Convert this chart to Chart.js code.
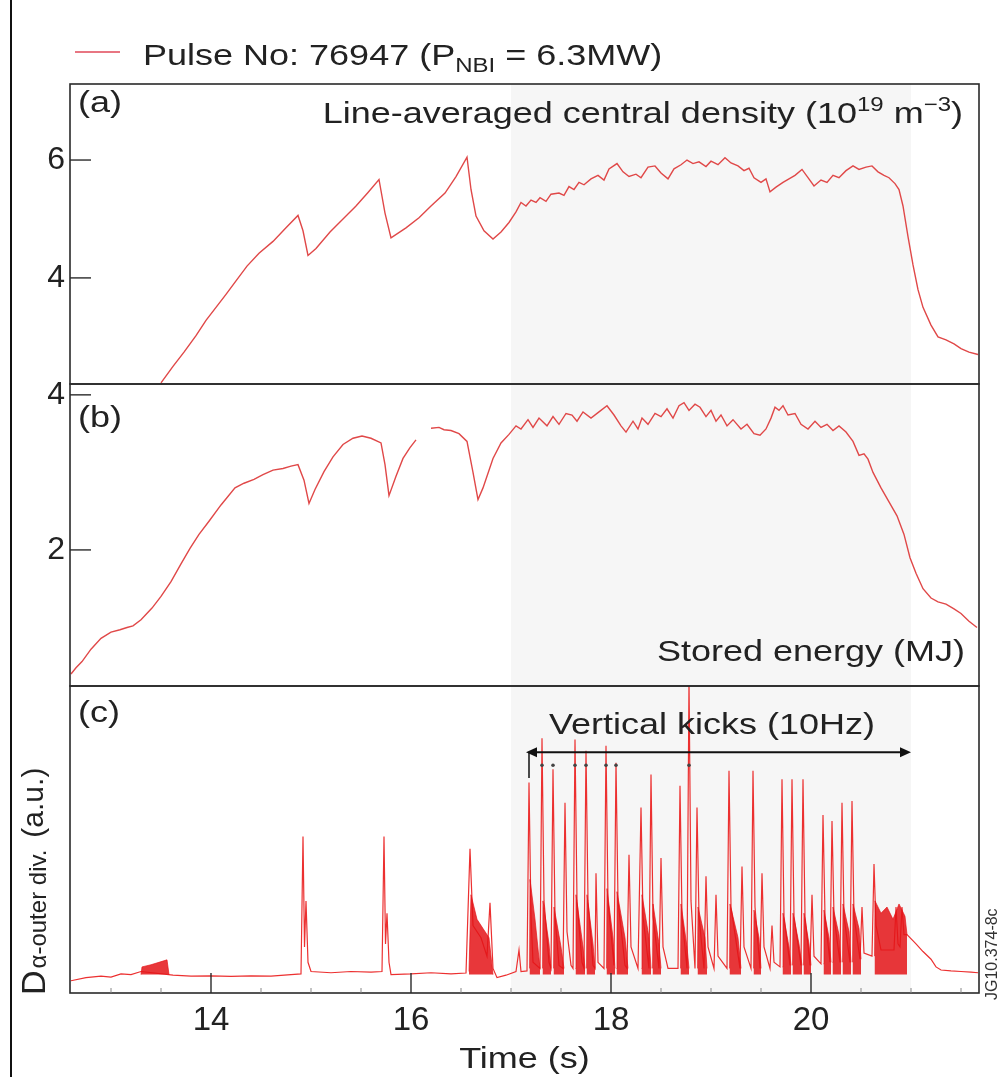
<!DOCTYPE html>
<html>
<head>
<meta charset="utf-8">
<title>Pulse No: 76947</title>
<script src="https://cdn.jsdelivr.net/npm/chart.js@4.4.0/dist/chart.umd.min.js"></script>
<style>
  body { margin: 0; background: #fff; }
  #wrap { position: relative; width: 1000px; height: 1077px; }
  #frame { position: absolute; left: 10px; top: 0; width: 2px; height: 1077px; background: #111; }
</style>
</head>
<body>
<div id="wrap">
  <canvas id="grafico" width="1000" height="1077"></canvas>
  <div id="frame"></div>
</div>
<script>
// (a) line-averaged central density, 10^19 m^-3
const densityTime = [13.50, 13.62, 13.73, 13.85, 13.95, 14.05, 14.15, 14.25, 14.36, 14.48, 14.62, 14.75, 14.87, 14.92, 14.97, 15.05, 15.19, 15.32, 15.45, 15.57, 15.68, 15.74, 15.80, 15.95, 16.08, 16.20, 16.34, 16.45, 16.56, 16.60, 16.65, 16.73, 16.82, 16.90, 16.98, 17.05, 17.10, 17.15, 17.20, 17.25, 17.29, 17.35, 17.40, 17.48, 17.53, 17.58, 17.63, 17.68, 17.73, 17.80, 17.87, 17.93, 17.98, 18.06, 18.12, 18.18, 18.25, 18.30, 18.37, 18.44, 18.50, 18.57, 18.63, 18.70, 18.76, 18.82, 18.88, 18.95, 19.00, 19.07, 19.14, 19.20, 19.27, 19.33, 19.38, 19.43, 19.50, 19.55, 19.59, 19.65, 19.72, 19.78, 19.84, 19.91, 19.97, 20.03, 20.10, 20.16, 20.22, 20.28, 20.35, 20.42, 20.48, 20.55, 20.61, 20.67, 20.73, 20.78, 20.84, 20.88, 20.92, 20.97, 21.02, 21.07, 21.12, 21.20, 21.27, 21.35, 21.43, 21.50, 21.58, 21.67];
const densityVal = [2.22, 2.50, 2.74, 3.02, 3.28, 3.50, 3.72, 3.95, 4.20, 4.42, 4.62, 4.85, 5.06, 4.80, 4.38, 4.50, 4.78, 5.00, 5.22, 5.45, 5.67, 5.10, 4.68, 4.85, 5.02, 5.22, 5.44, 5.72, 6.05, 5.50, 5.05, 4.80, 4.66, 4.78, 4.94, 5.12, 5.28, 5.22, 5.32, 5.28, 5.36, 5.30, 5.42, 5.44, 5.40, 5.55, 5.50, 5.62, 5.58, 5.68, 5.74, 5.66, 5.85, 5.94, 5.80, 5.72, 5.76, 5.70, 5.88, 5.90, 5.78, 5.68, 5.85, 5.92, 6.00, 5.94, 5.97, 5.89, 5.98, 5.92, 6.04, 5.95, 5.90, 5.82, 5.86, 5.70, 5.62, 5.68, 5.46, 5.54, 5.62, 5.68, 5.74, 5.84, 5.70, 5.56, 5.66, 5.62, 5.74, 5.70, 5.82, 5.90, 5.84, 5.88, 5.90, 5.80, 5.74, 5.70, 5.60, 5.50, 5.22, 4.70, 4.22, 3.80, 3.50, 3.20, 3.00, 2.95, 2.88, 2.80, 2.74, 2.70];

// (b) stored energy, MJ (null = gap in the signal)
const energyTime = [12.60, 12.65, 12.71, 12.80, 12.90, 13.00, 13.09, 13.16, 13.22, 13.30, 13.41, 13.50, 13.60, 13.70, 13.79, 13.88, 13.98, 14.10, 14.24, 14.33, 14.43, 14.52, 14.62, 14.72, 14.80, 14.87, 14.93, 14.98, 15.04, 15.13, 15.22, 15.32, 15.42, 15.51, 15.60, 15.70, 15.74, 15.78, 15.85, 15.92, 15.99, 16.05, 16.12, 16.20, 16.28, 16.33, 16.40, 16.48, 16.56, 16.62, 16.67, 16.72, 16.82, 16.90, 16.98, 17.05, 17.10, 17.17, 17.22, 17.28, 17.36, 17.42, 17.48, 17.55, 17.61, 17.66, 17.72, 17.80, 17.88, 17.96, 18.03, 18.10, 18.15, 18.22, 18.27, 18.31, 18.37, 18.44, 18.50, 18.56, 18.62, 18.68, 18.73, 18.78, 18.84, 18.89, 18.95, 19.00, 19.05, 19.10, 19.16, 19.22, 19.30, 19.36, 19.43, 19.49, 19.55, 19.60, 19.64, 19.68, 19.72, 19.77, 19.84, 19.90, 19.97, 20.04, 20.10, 20.16, 20.22, 20.28, 20.35, 20.42, 20.48, 20.53, 20.57, 20.62, 20.70, 20.78, 20.86, 20.93, 20.99, 21.05, 21.12, 21.20, 21.27, 21.35, 21.43, 21.50, 21.58, 21.66];
const energyVal = [0.40, 0.48, 0.56, 0.72, 0.86, 0.94, 0.97, 1.00, 1.02, 1.10, 1.25, 1.40, 1.59, 1.82, 2.02, 2.20, 2.37, 2.58, 2.80, 2.86, 2.91, 2.97, 3.03, 3.05, 3.08, 3.10, 2.90, 2.60, 2.78, 3.01, 3.20, 3.36, 3.44, 3.47, 3.44, 3.38, 3.10, 2.70, 2.95, 3.18, 3.32, 3.42, null, 3.57, 3.58, 3.55, 3.54, 3.50, 3.40, 3.00, 2.65, 2.80, 3.18, 3.38, 3.49, 3.60, 3.56, 3.68, 3.58, 3.70, 3.60, 3.72, 3.62, 3.76, 3.74, 3.66, 3.78, 3.70, 3.78, 3.86, 3.74, 3.60, 3.52, 3.66, 3.56, 3.70, 3.62, 3.76, 3.72, 3.82, 3.70, 3.86, 3.90, 3.80, 3.88, 3.84, 3.72, 3.80, 3.66, 3.74, 3.60, 3.68, 3.56, 3.62, 3.50, 3.48, 3.56, 3.70, 3.84, 3.80, 3.86, 3.74, 3.76, 3.62, 3.56, 3.66, 3.58, 3.62, 3.54, 3.60, 3.52, 3.40, 3.22, 3.24, 3.17, 3.00, 2.80, 2.62, 2.44, 2.20, 1.90, 1.70, 1.50, 1.38, 1.33, 1.30, 1.24, 1.18, 1.08, 1.00];

// (c) D-alpha outer divertor, a.u. (spikes)
const dalphaTime = [12.60, 12.75, 12.90, 13.00, 13.10, 13.20, 13.30, 13.62, 13.80, 14.00, 14.20, 14.40, 14.60, 14.80, 14.90, 14.92, 14.935, 14.95, 14.97, 15.00, 15.20, 15.40, 15.60, 15.71, 15.73, 15.745, 15.76, 15.78, 15.80, 16.00, 16.20, 16.40, 16.55, 16.59, 16.62, 16.70, 16.76, 16.79, 16.82, 16.86, 16.95, 17.05, 17.08, 17.10, 17.16, 17.18, 17.20, 17.22, 17.29, 17.31, 17.33, 17.38, 17.40, 17.42, 17.44, 17.48, 17.52, 17.54, 17.56, 17.60, 17.62, 17.64, 17.66, 17.71, 17.73, 17.75, 17.77, 17.82, 17.84, 17.85, 17.87, 17.93, 17.95, 17.97, 18.03, 18.05, 18.07, 18.14, 18.16, 18.18, 18.20, 18.27, 18.30, 18.32, 18.38, 18.40, 18.42, 18.48, 18.50, 18.52, 18.57, 18.67, 18.69, 18.71, 18.76, 18.78, 18.80, 18.84, 18.86, 18.88, 18.93, 18.95, 18.97, 19.03, 19.05, 19.07, 19.16, 19.18, 19.20, 19.29, 19.31, 19.33, 19.40, 19.42, 19.44, 19.49, 19.51, 19.53, 19.59, 19.61, 19.63, 19.69, 19.71, 19.73, 19.79, 19.81, 19.83, 19.90, 19.92, 19.94, 19.99, 20.01, 20.03, 20.10, 20.12, 20.14, 20.19, 20.21, 20.23, 20.29, 20.31, 20.33, 20.39, 20.41, 20.43, 20.49, 20.51, 20.53, 20.61, 20.63, 20.65, 20.70, 20.83, 20.85, 20.87, 20.89, 20.91, 20.93, 20.96, 21.05, 21.12, 21.20, 21.25, 21.30, 21.40, 21.50, 21.60, 21.67];
const dalphaVal = [0.40, 0.50, 0.55, 0.52, 0.62, 0.60, 0.70, 0.58, 0.55, 0.56, 0.54, 0.56, 0.55, 0.60, 0.62, 5.10, 1.50, 3.00, 1.00, 0.70, 0.66, 0.70, 0.68, 0.70, 5.10, 1.60, 2.60, 1.00, 0.60, 0.62, 0.66, 0.62, 0.65, 4.70, 2.20, 1.80, 1.20, 2.94, 0.80, 0.50, 0.58, 0.70, 1.40, 0.70, 0.72, 6.86, 2.50, 1.00, 0.80, 8.30, 3.00, 1.00, 0.80, 7.29, 2.50, 0.90, 0.80, 6.20, 2.00, 0.90, 0.80, 8.26, 3.00, 1.00, 0.80, 7.89, 3.00, 0.90, 0.80, 3.90, 1.00, 0.80, 8.05, 3.00, 0.90, 7.50, 3.00, 0.90, 0.80, 4.50, 1.50, 0.80, 6.04, 2.50, 0.80, 7.12, 2.50, 0.80, 4.40, 1.50, 0.80, 0.80, 6.75, 2.50, 0.80, 10.2, 3.00, 0.80, 6.04, 2.50, 0.80, 3.80, 1.50, 0.80, 3.20, 1.20, 0.80, 7.24, 2.80, 0.80, 4.12, 1.50, 0.80, 7.24, 2.80, 0.80, 3.90, 1.50, 0.80, 2.20, 1.00, 0.85, 6.96, 2.50, 0.90, 6.96, 2.50, 0.90, 6.96, 2.50, 0.90, 3.20, 1.20, 0.95, 5.80, 2.50, 1.00, 5.60, 2.50, 1.00, 6.20, 2.50, 1.00, 6.25, 2.50, 1.10, 2.80, 1.30, 1.20, 4.20, 2.20, 1.40, 1.40, 2.80, 1.60, 1.50, 2.80, 1.90, 1.90, 1.60, 1.35, 1.10, 0.85, 0.75, 0.72, 0.70, 0.68, 0.66];

// (c) dense ELM bursts drawn as filled bands (null separates bursts)
const burstTime = [13.30, 13.31, 13.40, 13.48, 13.56, 13.58, 13.60, 16.58, 16.60, 16.66, 16.72, 16.78, 16.82, 16.84, 17.185, 17.19, 17.24, 17.29, 17.30, 17.315, 17.32, 17.38, 17.40, 17.41, 17.425, 17.43, 17.50, 17.53, 17.535, 17.645, 17.65, 17.72, 17.74, 17.745, 17.755, 17.76, 17.82, 17.84, 17.845, 17.955, 17.96, 18.02, 18.04, 18.045, 18.055, 18.06, 18.14, 18.17, 18.175, 18.305, 18.31, 18.38, 18.40, 18.405, 18.415, 18.42, 18.48, 18.50, 18.505, 18.695, 18.70, 18.76, 18.78, 18.785, 18.865, 18.87, 18.94, 18.96, 18.965, 19.185, 19.19, 19.27, 19.30, 19.305, 19.425, 19.43, 19.48, 19.50, 19.505, 19.715, 19.72, 19.78, 19.80, 19.805, 19.815, 19.82, 19.88, 19.91, 19.915, 19.925, 19.93, 19.98, 20.00, 20.005, 20.125, 20.13, 20.18, 20.20, 20.205, 20.215, 20.22, 20.28, 20.30, 20.305, 20.315, 20.32, 20.38, 20.40, 20.405, 20.415, 20.42, 20.48, 20.50, 20.505, 20.635, 20.64, 20.70, 20.76, 20.82, 20.88, 20.94, 20.96, 20.965];
const burstVal = [0.60, 0.85, 0.92, 1.00, 1.08, 0.60, null, 0.70, 3.20, 2.40, 2.10, 1.80, 0.60, null, 0.80, 3.70, 2.40, 0.80, null, 0.80, 3.00, 1.60, 0.80, null, 0.80, 2.80, 1.50, 0.80, null, 0.80, 3.20, 1.50, 0.80, null, 0.80, 3.20, 1.60, 0.80, null, 0.80, 3.40, 1.80, 0.80, null, 0.80, 3.30, 1.80, 0.80, null, 0.80, 3.20, 1.80, 0.80, null, 0.80, 2.90, 1.60, 0.80, null, 0.80, 2.90, 1.50, 0.80, null, 0.80, 2.80, 1.80, 0.80, null, 0.80, 2.90, 1.80, 0.80, null, 0.80, 2.70, 1.80, 0.80, null, 0.85, 2.60, 1.50, 0.90, null, 0.90, 2.60, 1.60, 0.90, null, 0.90, 2.60, 1.60, 0.90, null, 0.95, 2.70, 1.80, 1.00, null, 1.00, 2.80, 1.90, 1.00, null, 1.00, 2.90, 2.00, 1.00, null, 1.00, 2.90, 2.10, 1.10, null, 1.20, 3.00, 2.60, 2.80, 2.40, 2.90, 2.50, 1.90, null];

// ticks, shading and vertical kick markers
const xTickLabels = [14, 16, 18, 20];
const densityTicks = [4, 6];
const energyTicks = [2, 4];
const kickRange = [17.0, 21.0];
const kickMarks = [17.31, 17.42, 17.64, 17.75, 17.95, 18.05, 18.78];

const FONT = '"Liberation Sans", Arial, sans-serif';
const TEXTO = '#222';
const ESTICA = 1.2;

function pontos(tempos, valores) {
    return tempos.map((t, i) => ({ x: t, y: valores[i] }));
}

// draws text runs (sub/superscripts) with a small horizontal stretch
function larguraRuns(ctx, runs) {
    let w = 0;
    for (const r of runs) {
        ctx.font = r.s + 'px ' + FONT;
        w += ctx.measureText(r.t).width * ESTICA;
    }
    return w;
}
function desenhaRuns(ctx, runs, x, y, align) {
    const w = larguraRuns(ctx, runs);
    let cx = x;
    if (align === 'right') cx = x - w;
    if (align === 'center') cx = x - w / 2;
    ctx.fillStyle = TEXTO;
    ctx.textBaseline = 'alphabetic';
    ctx.textAlign = 'left';
    for (const r of runs) {
        ctx.font = r.s + 'px ' + FONT;
        ctx.save();
        ctx.translate(cx, y + (r.dy || 0));
        ctx.scale(ESTICA, 1);
        ctx.fillText(r.t, 0, 0);
        ctx.restore();
        cx += ctx.measureText(r.t).width * ESTICA;
    }
}

const desenhos = {
    id: 'desenhos',
    beforeDatasetsDraw(chart) {
        const { ctx, chartArea, scales } = chart;
        const x0 = scales.x.getPixelForValue(kickRange[0]);
        const x1 = scales.x.getPixelForValue(kickRange[1]);
        ctx.save();
        ctx.fillStyle = '#f6f6f6';
        ctx.fillRect(x0, chartArea.top, x1 - x0, chartArea.bottom - chartArea.top);
        ctx.restore();
    },
    afterDatasetsDraw(chart) {
        const { ctx, chartArea, scales } = chart;
        const { left, right } = chartArea;
        ctx.save();

        // panel frames
        ctx.strokeStyle = '#2a2a2a';
        ctx.lineWidth = 1.6;
        for (const id of ['yA', 'yB', 'yC']) {
            const s = scales[id];
            ctx.strokeRect(left, s.top, right - left, s.bottom - s.top);
        }

        // y tick marks, inside the frame
        ctx.lineWidth = 1.4;
        for (const id of ['yA', 'yB']) {
            const s = scales[id];
            for (const t of s.ticks) {
                const py = s.getPixelForValue(t.value);
                ctx.beginPath();
                ctx.moveTo(left, py);
                ctx.lineTo(left + 21, py);
                ctx.stroke();
            }
        }

        // x tick marks, inside the bottom frame
        const xs = scales.x;
        for (const t of xs.ticks) {
            const px = xs.getPixelForValue(t.value);
            const longo = xTickLabels.includes(t.value);
            ctx.lineWidth = longo ? 1.4 : 1;
            ctx.strokeStyle = longo ? '#2a2a2a' : '#888';
            ctx.beginPath();
            ctx.moveTo(px, chartArea.bottom);
            ctx.lineTo(px, chartArea.bottom - (longo ? 20 : 5));
            ctx.stroke();
        }

        // vertical kicks arrow
        const yc = scales.yC;
        const ay = yc.getPixelForValue(7.84);
        const ax0 = xs.getPixelForValue(17.15);
        const ax1 = xs.getPixelForValue(kickRange[1]);
        ctx.strokeStyle = '#111';
        ctx.fillStyle = '#111';
        ctx.lineWidth = 2;
        ctx.beginPath();
        ctx.moveTo(ax0 + 4, ay);
        ctx.lineTo(ax1 - 4, ay);
        ctx.stroke();
        ctx.beginPath();
        ctx.moveTo(ax0, ay); ctx.lineTo(ax0 + 11, ay - 5); ctx.lineTo(ax0 + 11, ay + 5); ctx.closePath();
        ctx.fill();
        ctx.beginPath();
        ctx.moveTo(ax1, ay); ctx.lineTo(ax1 - 11, ay - 5); ctx.lineTo(ax1 - 11, ay + 5); ctx.closePath();
        ctx.fill();
        const tx = xs.getPixelForValue(17.18);
        ctx.lineWidth = 1.5;
        ctx.beginPath();
        ctx.moveTo(tx, ay);
        ctx.lineTo(tx, yc.getPixelForValue(7.0));
        ctx.stroke();
        ctx.fillStyle = '#444';
        for (const k of kickMarks) {
            ctx.beginPath();
            ctx.arc(xs.getPixelForValue(k), yc.getPixelForValue(7.42), 1.8, 0, Math.PI * 2);
            ctx.fill();
        }

        // texts
        desenhaRuns(ctx, [{ t: '(a)', s: 30 }], 78, 112, 'left');
        desenhaRuns(ctx, [{ t: '(b)', s: 30 }], 78, 427, 'left');
        desenhaRuns(ctx, [{ t: '(c)', s: 30 }], 78, 722, 'left');
        desenhaRuns(ctx, [
            { t: 'Line-averaged central density (10', s: 30 },
            { t: '19', s: 20, dy: -12 },
            { t: ' m', s: 30 },
            { t: '\u22123', s: 20, dy: -12 },
            { t: ')', s: 30 }
        ], 963, 123, 'right');
        desenhaRuns(ctx, [{ t: 'Stored energy (MJ)', s: 30 }], 965, 661, 'right');
        desenhaRuns(ctx, [{ t: 'Vertical kicks (10Hz)', s: 30 }], 712, 734, 'center');
        desenhaRuns(ctx, [{ t: 'Time (s)', s: 30 }], (left + right) / 2, 1068, 'center');

        // legend
        ctx.strokeStyle = '#e04858';
        ctx.lineWidth = 1.6;
        ctx.beginPath();
        ctx.moveTo(75, 52);
        ctx.lineTo(120, 52);
        ctx.stroke();
        desenhaRuns(ctx, [
            { t: 'Pulse No: 76947 (P', s: 30 },
            { t: 'NBI', s: 20, dy: 7 },
            { t: ' = 6.3MW)', s: 30 }
        ], 143, 65, 'left');

        // rotated y title of panel (c)
        ctx.save();
        ctx.translate(45, 995);
        ctx.rotate(-Math.PI / 2);
        ctx.fillStyle = TEXTO;
        ctx.textAlign = 'left';
        ctx.textBaseline = 'alphabetic';
        ctx.font = '34px ' + FONT;
        ctx.fillText('D', 0, 0);
        let pos = ctx.measureText('D').width + 2;
        ctx.font = '24px ' + FONT;
        ctx.fillText('\u03b1-outer div.', pos, 1);
        pos += ctx.measureText('\u03b1-outer div.').width + 12;
        ctx.font = '30px ' + FONT;
        ctx.fillText('(a.u.)', pos, -2);
        ctx.restore();

        // figure code on the right edge
        ctx.save();
        ctx.translate(997, 1000);
        ctx.rotate(-Math.PI / 2);
        ctx.fillStyle = '#333';
        ctx.font = '16px ' + FONT;
        ctx.textAlign = 'left';
        ctx.fillText('JG10.374-8c', 0, 0);
        ctx.restore();

        ctx.restore();
    }
};

function eixoY(min, max, peso, valores) {
    return {
        type: 'linear',
        position: 'left',
        stack: 'paineis',
        stackWeight: peso,
        min: min,
        max: max,
        grid: { display: false, drawTicks: false },
        border: { display: false },
        afterBuildTicks: (axis) => { axis.ticks = valores.map(v => ({ value: v })); },
        afterFit: (axis) => { axis.width = 70; },
        ticks: {
            display: valores.length > 0,
            padding: 5,
            color: TEXTO,
            font: { family: FONT, size: 32 }
        }
    };
}

const grafico = new Chart('grafico', {
    type: 'line',
    data: {
        datasets: [
            {
                label: 'Pulse No: 76947',
                data: pontos(densityTime, densityVal),
                yAxisID: 'yA',
                borderColor: '#e04848',
                borderWidth: 1.4
            },
            {
                label: 'Stored energy',
                data: pontos(energyTime, energyVal),
                yAxisID: 'yB',
                borderColor: '#e04848',
                borderWidth: 1.4
            },
            {
                label: 'ELM bursts',
                data: pontos(burstTime, burstVal),
                yAxisID: 'yC',
                borderColor: 'rgba(228,20,24,0.85)',
                backgroundColor: 'rgba(228,20,24,0.85)',
                borderWidth: 0.8,
                fill: { value: 0.6 }
            },
            {
                label: 'D alpha',
                data: pontos(dalphaTime, dalphaVal),
                yAxisID: 'yC',
                borderColor: '#ec3030',
                borderWidth: 1.2
            }
        ]
    },
    options: {
        responsive: false,
        animation: false,
        devicePixelRatio: 1,
        layout: { padding: { left: 0, right: 21, top: 84, bottom: 0 } },
        elements: { point: { radius: 0 }, line: { tension: 0 } },
        plugins: { legend: { display: false }, tooltip: { enabled: false } },
        scales: {
            x: {
                type: 'linear',
                min: 12.59,
                max: 21.68,
                grid: { display: false, drawTicks: false },
                border: { display: false },
                afterBuildTicks: (axis) => {
                    const marcas = [];
                    for (let v = 13; v <= 21.5; v += 0.5) marcas.push({ value: v });
                    axis.ticks = marcas;
                },
                afterFit: (axis) => { axis.height = 84; },
                ticks: {
                    autoSkip: false,
                    maxRotation: 0,
                    padding: 8,
                    color: TEXTO,
                    font: { family: FONT, size: 33 },
                    callback: (v) => xTickLabels.includes(v) ? String(v) : ''
                }
            },
            yC: eixoY(0, 10, 307, []),
            yB: eixoY(0.245, 4.14, 302, energyTicks),
            yA: eixoY(2.2, 7.29, 300, densityTicks)
        }
    },
    plugins: [desenhos]
});
</script>
</body>
</html>
